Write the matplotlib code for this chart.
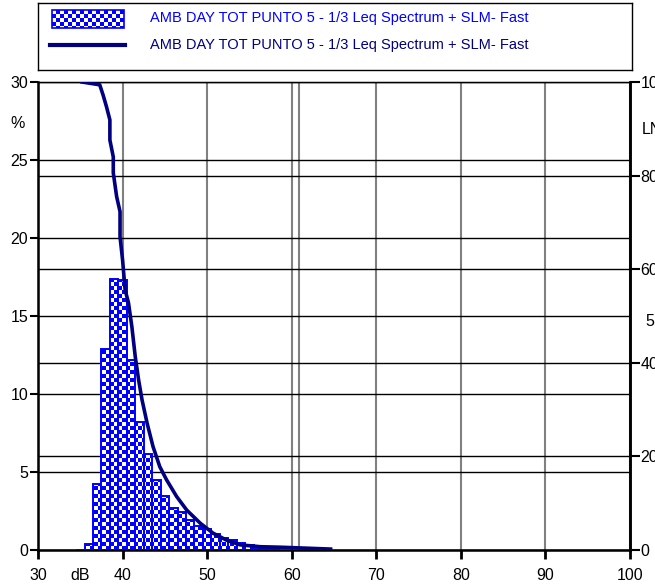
import matplotlib
matplotlib.use("Agg")
import matplotlib.pyplot as plt
import numpy as np
from matplotlib.patches import Rectangle
from matplotlib.path import Path

plt.rcParams["font.family"] = ["Liberation Sans", "DejaVu Sans"]

# 1/3 Leq spectrum distribution (% per 1 dB class)
levels = [35, 36, 37, 38, 39, 40, 41, 42, 43, 44, 45, 46, 47, 48, 49, 50,
          51, 52, 53, 54, 55, 56, 57, 58]
percent = [0.0, 0.4, 4.2, 12.9, 17.4, 17.3, 12.2, 8.2, 6.15, 4.5, 3.46, 2.67,
           2.46, 1.92, 1.54, 1.35, 1.03, 0.75, 0.64, 0.45, 0.32, 0.15, 0.1, 0.1]

# cumulative (LN) curve, right axis
cum_db = [35.2, 37.3, 37.7, 38.1, 38.5, 38.5, 38.9, 38.9, 39.3, 39.7, 39.7,
          40.0, 40.3, 40.7, 41.1, 41.5, 41.9, 42.3, 42.9, 43.6, 44.4, 45.2,
          46.4, 47.6, 49.2, 50.7, 52.3, 53.9, 56.3, 58.6, 64.6]
cum_pct = [100, 99.4, 97.2, 94.7, 91.9, 87.6, 84.0, 80.6, 75.5, 72.3, 66.9,
           62.0, 55.6, 52.8, 47.7, 41.3, 36.3, 32.1, 27.1, 22.1, 17.8, 15.0,
           11.4, 8.5, 5.7, 3.6, 2.1, 1.1, 0.7, 0.6, 0.2]

series_label = "AMB DAY TOT PUNTO 5 - 1/3 Leq Spectrum + SLM- Fast"
BLUE = "#0000ff"
NAVY = "#000080"
checker_cmap = matplotlib.colors.ListedColormap(["white", BLUE])

W, H = 655, 586
fig = plt.figure(figsize=(W / 100, H / 100), dpi=100)
ax = fig.add_axes([38 / W, 1 - 550 / H, 592 / W, 468 / H])
ax.set_xlim(30, 100)
ax.set_ylim(0, 30)

# grid lines
ax.set_xticks(np.arange(30, 101, 10))
ax.set_yticks(np.arange(0, 31, 5))
ax.set_yticks([6, 12, 18, 24], minor=True)
ax.grid(axis="x", color="#808080", lw=1.5, zorder=1)
ax.grid(axis="y", which="both", color="black", lw=1.0, zorder=1)
ax.axvline(60.9, color="#808080", lw=1.5, zorder=1)
ax.tick_params(axis="y", which="minor", length=0)

# bars with checkerboard fill
bars = ax.bar(levels, percent, width=1.0, facecolor="white", edgecolor="none", zorder=2)
paths = [b.get_patch_transform().transform_path(b.get_path()) for b in bars]
clip = Path.make_compound_path(*paths)
yy, xx = np.mgrid[0:468, 0:592]
checker = ((yy // 4 + xx // 4) % 2).astype(float)
im = ax.imshow(checker, extent=[30, 100, 0, 30], cmap=checker_cmap,
               interpolation="nearest", aspect="auto", zorder=2.5)
im.set_clip_path(clip, transform=ax.transData)
ax.bar(levels, percent, width=1.0, fill=False, edgecolor=BLUE, lw=1.4, zorder=3)
ax.set_xlim(30, 100)
ax.set_ylim(0, 30)

for s in ["left", "bottom", "right"]:
    ax.spines[s].set_linewidth(1.8)
ax.spines["top"].set_linewidth(1.0)
ax.tick_params(axis="x", direction="out", length=6.5, width=2, labelsize=11.5, pad=6.5)
ax.tick_params(axis="y", which="major", direction="out", length=6, width=1.5, labelsize=11.5, pad=1)

# cumulative curve on right axis
ax2 = ax.twinx()
ax2.set_ylim(0, 100)
ax2.set_yticks(np.arange(0, 101, 20))
ax2.plot(cum_db, cum_pct, color=NAVY, lw=2.6, zorder=4)
ax2.spines["right"].set_linewidth(1.8)
ax2.tick_params(axis="y", direction="out", length=7.5, width=1.5, labelsize=11.5, pad=0)

fig.text(80 / W, 1 - 576 / H, "dB", ha="center", va="center", fontsize=11.5)
fig.text(18 / W, 1 - 123 / H, "%", ha="center", va="center", fontsize=11.5)
fig.text(642 / W, 1 - 129 / H, "LN", ha="left", va="center", fontsize=11.5)
fig.text(645 / W, 1 - 322 / H, "5", ha="left", va="center", fontsize=11.5)

# legend box
lax = fig.add_axes([38 / W, 1 - 70 / H, 594 / W, 67 / H])
lax.set_xticks([])
lax.set_yticks([])
for s in lax.spines.values():
    s.set_linewidth(1.0)
ly, lx = np.mgrid[0:18, 0:72]
lchk = ((ly // 4 + lx // 4) % 2).astype(float)
lax.imshow(lchk, extent=[52, 124, 28, 10], cmap=checker_cmap,
           interpolation="nearest", aspect="auto")
lax.add_patch(Rectangle((52, 10), 72, 18, fill=False, edgecolor=BLUE, lw=1.2))
lax.plot([50, 125], [45, 45], color=NAVY, lw=3)
lax.text(150, 18, series_label, color=BLUE, fontsize=10.5, va="center", ha="left")
lax.text(150, 45, series_label, color=NAVY, fontsize=10.5, va="center", ha="left")
lax.set_xlim(38, 632)
lax.set_ylim(70, 3)

fig.savefig("out.png", dpi=100)
